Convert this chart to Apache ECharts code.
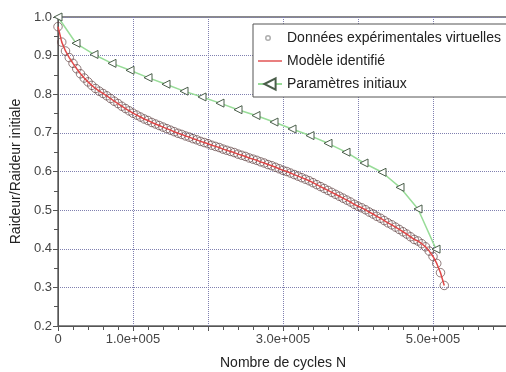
<!DOCTYPE html>
<html>
<head>
<meta charset="utf-8">
<script src="https://cdn.jsdelivr.net/npm/echarts@6/dist/echarts.min.js"></script>
<style>html,body{margin:0;padding:0;background:#fff;}#c{width:506px;height:372px;}</style>
</head>
<body>
<div id="c"></div>
<script>
// Experimental points (every 5000 cycles)
const expN = [0,5000,10000,15000,20000,25000,30000,35000,40000,45000,50000,55000,60000,65000,70000,75000,80000,85000,90000,95000,
100000,105000,110000,115000,120000,125000,130000,135000,140000,145000,150000,155000,160000,165000,170000,175000,180000,185000,190000,195000,
200000,205000,210000,215000,220000,225000,230000,235000,240000,245000,250000,255000,260000,265000,270000,275000,280000,285000,290000,295000,
300000,305000,310000,315000,320000,325000,330000,335000,340000,345000,350000,355000,360000,365000,370000,375000,380000,385000,390000,395000,
400000,405000,410000,415000,420000,425000,430000,435000,440000,445000,450000,455000,460000,465000,470000,475000,480000,485000,490000,495000,
500000,505000,510000,515000];
const expV = [0.975,0.935,0.912,0.895,0.880,0.866,0.853,0.842,0.832,0.823,0.815,0.808,0.802,0.796,0.789,0.782,0.776,0.769,0.763,0.757,
0.751,0.746,0.741,0.736,0.732,0.727,0.723,0.719,0.715,0.711,0.707,0.703,0.699,0.696,0.692,0.689,0.685,0.682,0.678,0.675,
0.672,0.668,0.665,0.662,0.658,0.655,0.652,0.649,0.645,0.642,0.639,0.635,0.632,0.629,0.625,0.622,0.618,0.615,0.611,0.607,
0.603,0.600,0.596,0.592,0.588,0.584,0.580,0.576,0.571,0.566,0.561,0.556,0.551,0.546,0.541,0.536,0.531,0.526,0.521,0.515,
0.510,0.506,0.501,0.495,0.490,0.484,0.479,0.473,0.467,0.462,0.456,0.450,0.444,0.438,0.431,0.424,0.420,0.413,0.405,0.394,
0.380,0.362,0.338,0.305];
// Initial parameters (every 24000 cycles)
const initN = [0,24000,48000,72000,96000,120000,144000,168000,192000,216000,240000,264000,288000,312000,336000,360000,384000,408000,432000,456000,480000,504000];
const initV = [1.000,0.932,0.903,0.880,0.862,0.843,0.826,0.808,0.793,0.777,0.760,0.745,0.728,0.710,0.693,0.673,0.650,0.622,0.598,0.559,0.503,0.399];
const xLabels = {0:'0',100000:'1.0e+005',300000:'3.0e+005',500000:'5.0e+005'};
const seriesNames = ['Données expérimentales virtuelles','Modèle identifié','Paramètres initiaux'];

const pair = (a,b)=>a.map((x,i)=>[x,b[i]]);
const font = 'Liberation Sans, Arial, sans-serif';
// legend icon shapes (bounding box 24x14 kept by degenerate corner points)
const boxPts = 'M0,0 L0,0 M24,14 L24,14 ';
const iconDot = 'path://' + boxPts + 'M7,7 a3,3 0 1,0 6,0 a3,3 0 1,0 -6,0 Z M8.5,7 a1.5,1.5 0 1,1 3,0 a1.5,1.5 0 1,1 -3,0 Z';
const iconLine = 'path://' + boxPts + 'M0,6.3 L24,6.3 L24,7.7 L0,7.7 Z';
const chart = echarts.init(document.getElementById('c'));
chart.setOption({
  animation:false,
  backgroundColor:'#fff',
  grid:{left:58, top:17, width:450, height:309, show:true, borderColor:'#8a8a8a', borderWidth:2, backgroundColor:'#fff',
        containLabel:false, outerBoundsMode:'none'},
  legend:{
    orient:'vertical', left:253, top:24, padding:[7,6,6,4], itemGap:9, itemWidth:24, itemHeight:14,
    backgroundColor:'#fff', borderColor:'#555', borderWidth:1,
    textStyle:{fontFamily:font, fontSize:14, color:'#222'},
    data:[
      {name:seriesNames[0], icon:iconDot, itemStyle:{color:'#9a9a9a', borderWidth:0}},
      {name:seriesNames[1], icon:iconLine, itemStyle:{color:'#e04848', borderWidth:0}},
      {name:seriesNames[2]}
    ]
  },
  xAxis:{
    type:'value', min:0, max:600000, interval:100000,
    name:'Nombre de cycles N', nameLocation:'middle', nameGap:30,
    nameTextStyle:{fontFamily:font, fontSize:14, color:'#222'},
    axisLine:{show:true, onZero:false, lineStyle:{color:'#555', width:1}},
    axisTick:{show:true, length:5, inside:false, lineStyle:{color:'#555'}},
    minorTick:{show:true, splitNumber:5, length:4, lineStyle:{color:'#555'}},
    axisLabel:{fontFamily:font, fontSize:13, color:'#444', margin:7, showMaxLabel:true,
      formatter:v=>xLabels[v]!==undefined?xLabels[v]:''},
    splitLine:{show:true, lineStyle:{color:'#8080b0', type:'dotted', width:1}}
  },
  yAxis:{
    type:'value', min:0.2, max:1.0, interval:0.1,
    name:'Raideur/Raideur initiale', nameLocation:'middle', nameGap:26,
    nameTextStyle:{fontFamily:font, fontSize:14, color:'#222'},
    axisLine:{show:true, onZero:false, lineStyle:{color:'#555', width:1}},
    axisTick:{show:true, length:5, lineStyle:{color:'#555'}},
    minorTick:{show:true, splitNumber:2, length:4, lineStyle:{color:'#555'}},
    axisLabel:{fontFamily:font, fontSize:13, color:'#444', margin:6, formatter:v=>v.toFixed(1)},
    splitLine:{show:true, lineStyle:{color:'#8080b0', type:'dotted', width:1}}
  },
  series:[
    {name:seriesNames[0], type:'scatter', data:pair(expN,expV), symbol:'circle', symbolSize:8.5,
     itemStyle:{color:'rgba(255,255,255,0)', borderColor:'rgba(95,65,65,0.85)', borderWidth:1}, z:2},
    {name:seriesNames[1], type:'line', data:pair(expN,expV), showSymbol:false, symbol:'none',
     lineStyle:{color:'#e04848', width:1.5}, itemStyle:{color:'#e04848'}, z:3},
    {name:seriesNames[2], type:'line', data:pair(initN,initV), symbol:'triangle', symbolSize:8, symbolRotate:90,
     showAllSymbol:true,
     lineStyle:{color:'#98dc98', width:1.5}, itemStyle:{color:'#fff', borderColor:'#4a5e4a', borderWidth:1}, z:4}
  ]
});
</script>
</body>
</html>
